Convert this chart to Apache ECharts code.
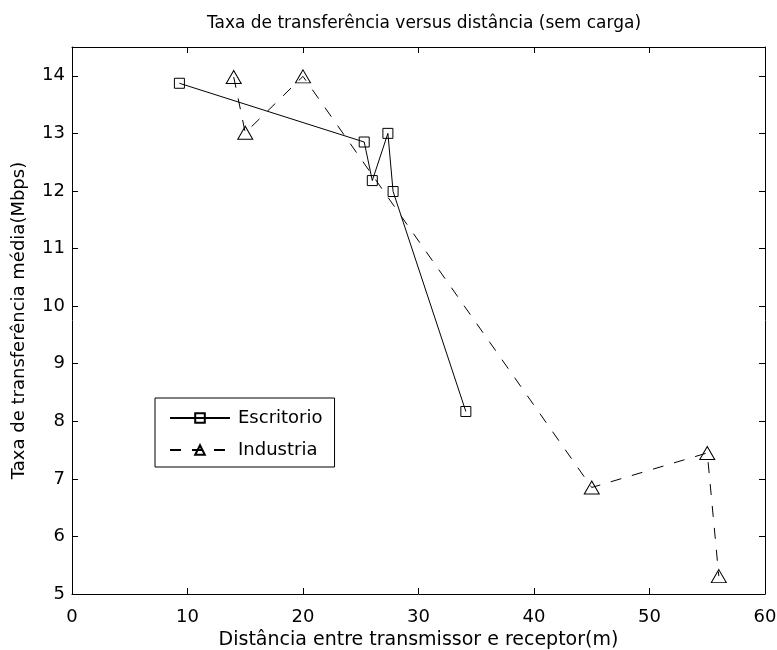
<!DOCTYPE html>
<html>
<head>
<meta charset="utf-8">
<script src="https://cdn.jsdelivr.net/npm/echarts@6/dist/echarts.min.js"></script>
<style>
html,body{margin:0;padding:0;background:#fff;}
#chart{width:777px;height:650px;}
</style>
</head>
<body>
<div id="chart"></div>
<script>
var titleText = 'Taxa de transferência versus distância (sem carga)';
var xName = 'Distância entre transmissor e receptor(m)';
var yName = 'Taxa de transferência média(Mbps)';
var seriesNames = ['Escritorio', 'Industria'];

var escritorioX = [9.3, 25.3, 26.0, 27.35, 27.8, 34.1];
var escritorioY = [13.87, 12.85, 12.18, 13.0, 11.99, 8.17];

var industriaX = [14.0, 15.0, 20.0, 45.0, 55.0, 56.0];
var industriaY = [13.98, 13.01, 13.99, 6.85, 7.45, 5.31];

var xMin = 0, xMax = 60, xStep = 10;
var yMin = 5, yMax = 14.5, yStep = 1;

function pairs(xs, ys) { return xs.map(function (x, i) { return [x, ys[i]]; }); }

var font = 'DejaVu Sans, Liberation Sans, sans-serif';
var chart = echarts.init(document.getElementById('chart'), null, {renderer: 'canvas'});

var axisCommon = {
  axisLine: {show: true, onZero: false, lineStyle: {color: '#000', width: 1}},
  axisTick: {show: true, inside: true, length: 6, lineStyle: {color: '#000'}},
  splitLine: {show: false}
};

chart.setOption({
  animation: false,
  backgroundColor: '#fff',
  title: {
    text: titleText,
    left: 419, top: 10, textAlign: 'center',
    textStyle: {fontFamily: font, fontSize: 17, fontWeight: 'normal', color: '#000'}
  },
  grid: {left: 72, right: 12, top: 47, bottom: 56, containLabel: false, outerBoundsMode: 'none'},
  legend: {
    data: seriesNames,
    orient: 'vertical',
    left: 155, top: 398,
    padding: [11, 12, 8, 14],
    itemGap: 14,
    itemWidth: 60, itemHeight: 12,
    borderColor: '#000', borderWidth: 1,
    backgroundColor: '#fff',
    textStyle: {fontFamily: font, fontSize: 18, color: '#000', padding: [0, 0, 0, 3]}
  },
  xAxis: [
    Object.assign({
      type: 'value', min: xMin, max: xMax, interval: xStep, position: 'bottom',
      name: xName, nameLocation: 'middle', nameGap: 30,
      nameTextStyle: {fontFamily: font, fontSize: 19, color: '#000'},
      axisLabel: {fontFamily: font, fontSize: 18, color: '#000', margin: 14}
    }, axisCommon),
    Object.assign({
      type: 'value', min: xMin, max: xMax, interval: xStep, position: 'top',
      axisLabel: {show: false}
    }, axisCommon)
  ],
  yAxis: [
    Object.assign({
      type: 'value', min: yMin, max: yMax, interval: yStep, position: 'left',
      name: yName, nameLocation: 'middle', nameGap: 44,
      nameTextStyle: {fontFamily: font, fontSize: 18, color: '#000'},
      axisLabel: {fontFamily: font, fontSize: 18, color: '#000', margin: 7, showMaxLabel: false}
    }, axisCommon),
    Object.assign({
      type: 'value', min: yMin, max: yMax, interval: yStep, position: 'right',
      axisLabel: {show: false}
    }, axisCommon)
  ],
  series: [
    {
      name: seriesNames[0], type: 'line',
      data: pairs(escritorioX, escritorioY),
      symbol: 'rect', symbolSize: 10,
      lineStyle: {color: '#000', width: 1, type: 'solid'},
      itemStyle: {color: 'rgba(255,255,255,0)', borderColor: '#000', borderWidth: 1},
      emphasis: {disabled: true}
    },
    {
      name: seriesNames[1], type: 'line',
      data: pairs(industriaX, industriaY),
      symbol: 'triangle', symbolSize: [15, 13],
      lineStyle: {color: '#000', width: 1, type: [11, 11]},
      itemStyle: {color: 'rgba(255,255,255,0)', borderColor: '#000', borderWidth: 1},
      emphasis: {disabled: true}
    }
  ]
});
</script>
</body>
</html>
